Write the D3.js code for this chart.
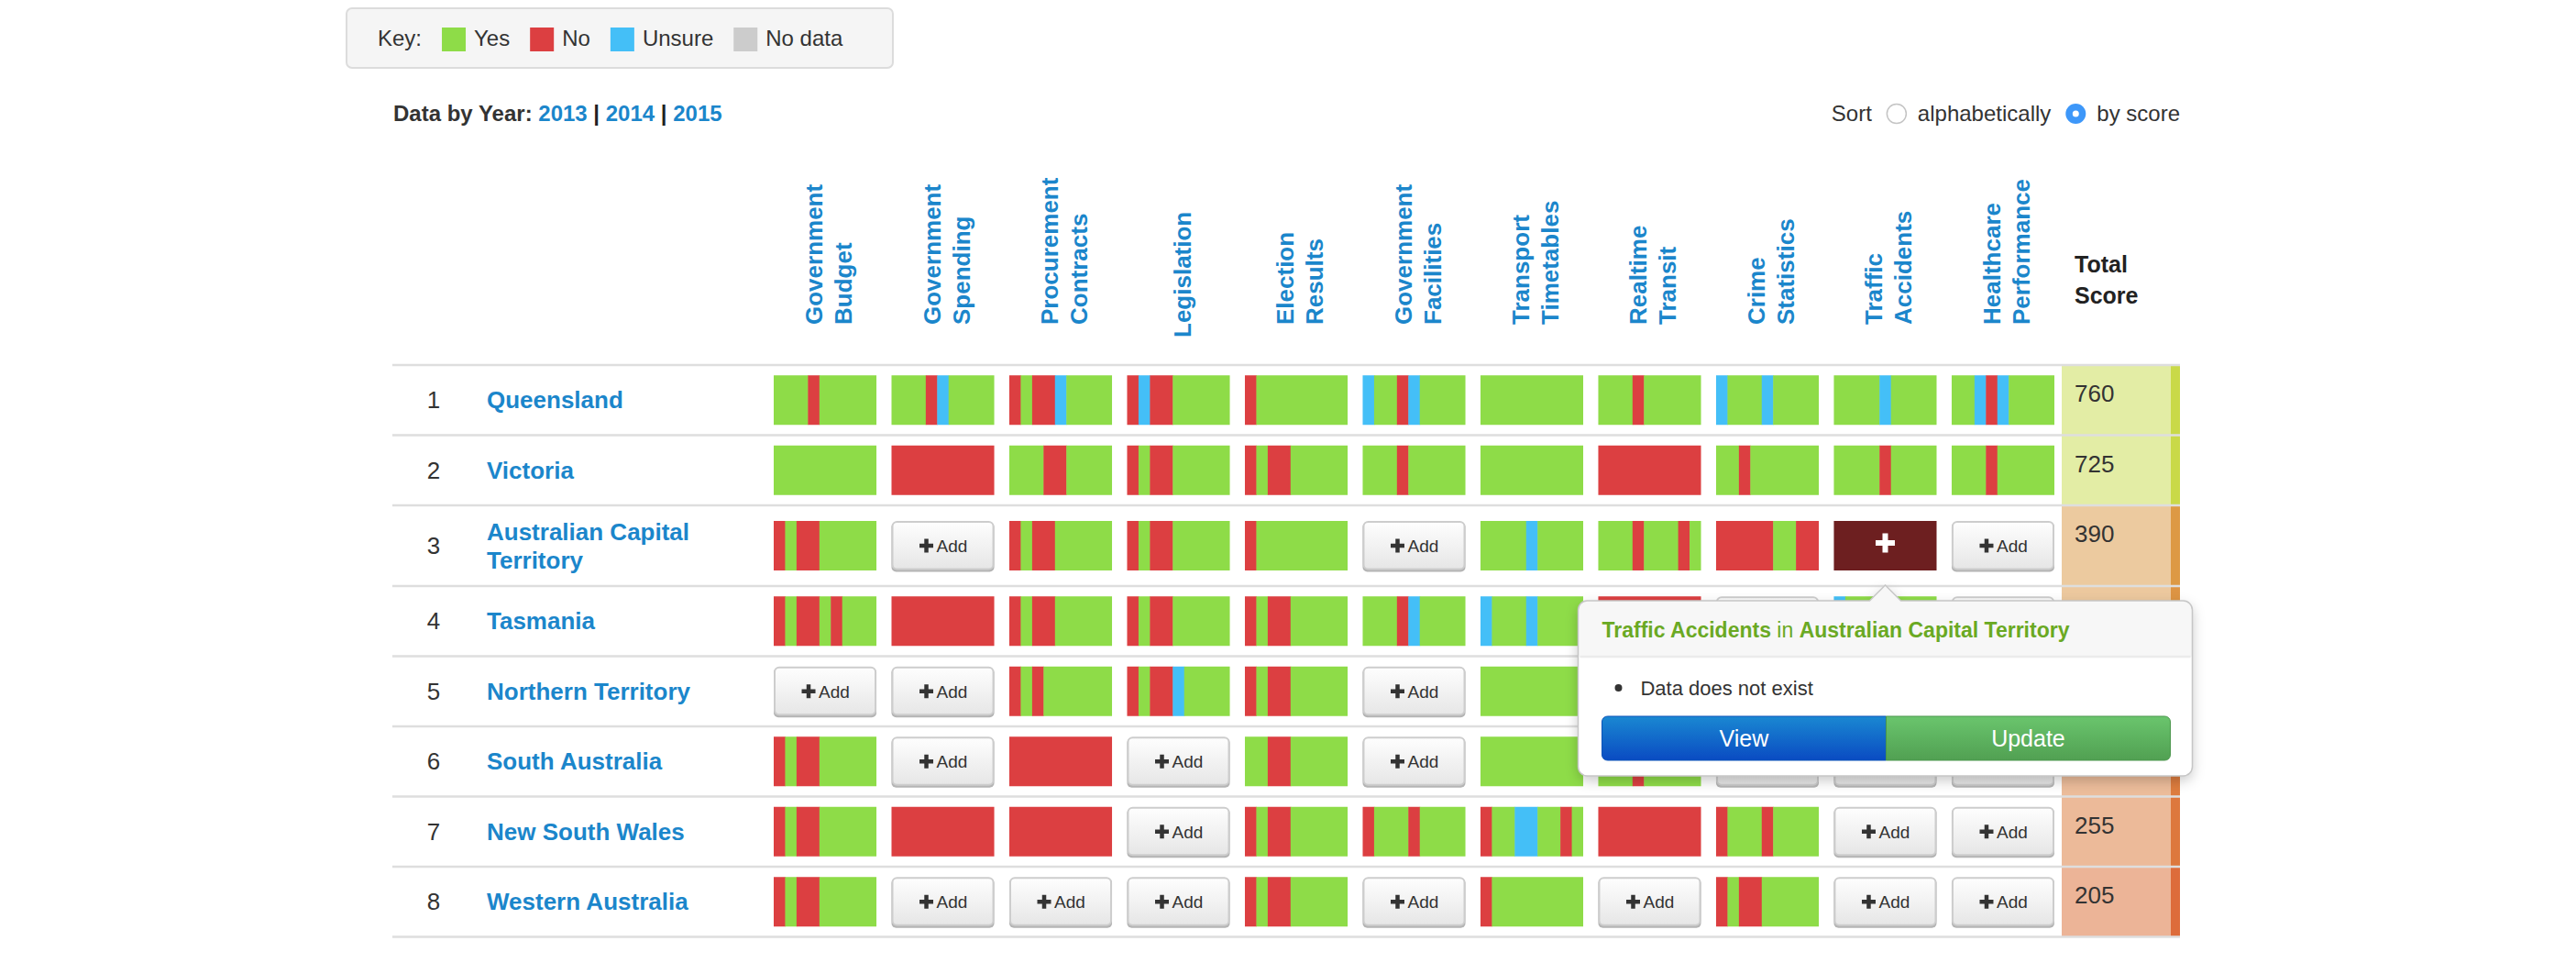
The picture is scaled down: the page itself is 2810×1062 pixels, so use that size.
<!DOCTYPE html>
<html>
<head>
<meta charset="utf-8">
<script src="https://cdn.jsdelivr.net/npm/d3@7"></script>
<style>
  body { margin: 0; background: #fff; }
  svg text { font-family: "Liberation Sans", Arial, Helvetica, sans-serif; }
</style>
</head>
<body>
<svg id="chart" width="2810" height="1062"></svg>
<script>
// datasets (columns) and places (rows), ranked by score
var datasets = ["Government Budget", "Government Spending", "Procurement Contracts", "Legislation",
  "Election Results", "Government Facilities", "Transport Timetables", "Realtime Transit",
  "Crime Statistics", "Traffic Accidents", "Healthcare Performance"];
var places = ["Queensland", "Victoria", "Australian Capital Territory", "Tasmania",
  "Northern Territory", "South Australia", "New South Wales", "Western Australia"];
var scores = [760, 725, 390, 370, 300, 270, 255, 205];

// 9 census questions per cell: Y yes, N no, U unsure. null = no entry (Add), "" = entry open in popover
var answers = [
  ["YYYNYYYYY", "YYYNUYYYY", "NYNNUYYYY", "NUNNYYYYY", "NYYYYYYYY", "UYYNUYYYY", "YYYYYYYYY", "YYYNYYYYY", "UYYYUYYYY", "YYYYUYYYY", "YYUNUYYYY"],
  ["YYYYYYYYY", "NNNNNNNNN", "YYYNNYYYY", "NYNNYYYYY", "NYNNYYYYY", "YYYNYYYYY", "YYYYYYYYY", "NNNNNNNNN", "YYNYYYYYY", "YYYYNYYYY", "YYYNYYYYY"],
  ["NYNNYYYYY", null, "NYNNYYYYY", "NYNNYYYYY", "NYYYYYYYY", null, "YYYYUYYYY", "YYYNYYYNY", "NNNNNYYNN", "", null],
  ["NYNNYNYYY", "NNNNNNNNN", "NYNNYYYYY", "NYNNYYYYY", "NYNNYYYYY", "YYYNUYYYY", "UYYYUYYYY", "NNNNNNNNN", null, "UYYYYYYYY", null],
  [null, null, "NYNYYYYYY", "NYNNUYYYY", "NYNNYYYYY", null, "YYYYYYYYY", "NNNNNNNNN", null, null, null],
  ["NYNNYYYYY", null, "NNNNNNNNN", null, "YYNNYYYYY", null, "YYYYYYYYY", "YYYNYYYYY", null, null, null],
  ["NYNNYYYYY", "NNNNNNNNN", "NNNNNNNNN", null, "NYNNYYYYY", "NYYYNYYYY", "NYYUUYYNY", "NNNNNNNNN", "NYYYNYYYY", null, null],
  ["NYNNYYYYY", null, null, null, "NYNNYYYYY", null, "NYYYYYYYY", null, "NYNNYYYYY", null, null]
];

var keyCodes = ["Y", "N", "U", "-"];
var keyLabels = ["Yes", "No", "Unsure", "No data"];
var years = ["2013", "2014", "2015"];
var sortLabels = ["alphabetically", "by score"];
var popNotes = ["Data does not exist"];
var popButtons = ["View", "Update"];

var colors = {Y: "#8edc48", N: "#dc3f41", U: "#44bff7", "-": "#cccccc"};
var blue = "#1b86cb", ink = "#333";

var svg = d3.select("#chart");
var defs = svg.append("defs");

function grad(id, top, bottom){
  var g = defs.append("linearGradient").attr("id", id).attr("x1", 0).attr("y1", 0).attr("x2", 0).attr("y2", 1);
  g.append("stop").attr("offset", "0%").attr("stop-color", top);
  g.append("stop").attr("offset", "100%").attr("stop-color", bottom);
}
grad("btn", "#fefefe", "#e6e6e6");
grad("view", "#1a88d2", "#0a4bc2");
grad("update", "#6ac56d", "#51a052");
var shadow = defs.append("filter").attr("id", "shadow").attr("x", "-10%").attr("y", "-20%").attr("width", "120%").attr("height", "150%");
shadow.append("feDropShadow").attr("dx", 0).attr("dy", 5).attr("stdDeviation", 7).attr("flood-color", "#000").attr("flood-opacity", 0.22);

// scales
var x = d3.scaleBand().domain(datasets).range([844, 2241]).paddingInner(0.128);
var unit = d3.scaleLinear().domain([0, 9]).range([0, x.bandwidth()]);
var scoreFill = d3.scaleLinear().domain([205, 390, 700]).range(["#ecb497", "#ecca9f", "#e3eda5"]).clamp(true);
var scoreEdge = d3.scaleLinear().domain([205, 390, 700]).range(["#dd6c3b", "#dd9944", "#c9d948"]).clamp(true);

var cellH = 54, tableLeft = 428, tableRight = 2378, scoreLeft = 2249, stripeW = 10;
var headTop = 398, nameX = 531, rankX = 473;

function runs(code){
  var out = [];
  code.split("").forEach(function(c, i){
    var last = out[out.length - 1];
    if (last && last.c == c) last.n++;
    else out.push({c: c, i: i, n: 1});
  });
  return out;
}

function sidePath(x0, y0, w, h, rl, rr){
  return "M" + (x0 + rl) + "," + y0 + "H" + (x0 + w - rr)
    + "A" + rr + "," + rr + " 0 0 1 " + (x0 + w) + "," + (y0 + rr)
    + "V" + (y0 + h - rr) + "A" + rr + "," + rr + " 0 0 1 " + (x0 + w - rr) + "," + (y0 + h)
    + "H" + (x0 + rl) + "A" + rl + "," + rl + " 0 0 1 " + x0 + "," + (y0 + h - rl)
    + "V" + (y0 + rl) + "A" + rl + "," + rl + " 0 0 1 " + (x0 + rl) + "," + y0 + "Z";
}

function plus(g, cx, cy, size, thick, fill){
  g.append("rect").attr("x", cx - size / 2).attr("y", cy - thick / 2).attr("width", size).attr("height", thick).attr("fill", fill);
  g.append("rect").attr("x", cx - thick / 2).attr("y", cy - size / 2).attr("width", thick).attr("height", size).attr("fill", fill);
}

/***** key box *****/
var key = svg.append("g");
key.append("rect").attr("x", 378).attr("y", 9).attr("width", 596).attr("height", 65).attr("rx", 6)
  .attr("fill", "#f5f5f5").attr("stroke", "#dcdcdc").attr("stroke-width", 2);
var kx = 412;
var kt = key.append("text").attr("x", kx).attr("y", 50).attr("font-size", 24).attr("fill", ink).text("Key:");
kx += kt.node().getComputedTextLength() + 22;
keyCodes.forEach(function(c, i){
  key.append("rect").attr("x", kx).attr("y", 30).attr("width", 26).attr("height", 26).attr("fill", colors[c]);
  var t = key.append("text").attr("x", kx + 35).attr("y", 50).attr("font-size", 24).attr("fill", ink).text(keyLabels[i]);
  kx += 35 + t.node().getComputedTextLength() + 22;
});

/***** years *****/
var yr = svg.append("text").attr("x", 429).attr("y", 132).attr("font-size", 24).attr("font-weight", "bold").attr("fill", ink);
yr.append("tspan").text("Data by Year: ");
years.forEach(function(y, i){
  if (i > 0) yr.append("tspan").attr("fill", "#222").text(" | ");
  yr.append("tspan").attr("fill", blue).text(y);
});

/***** sort control, laid out from the right *****/
var sortG = svg.append("g");
var sx = tableRight, sy = 132;
for (var s = sortLabels.length - 1; s >= 0; s--){
  var st = sortG.append("text").attr("x", sx).attr("y", sy).attr("text-anchor", "end").attr("font-size", 24).attr("fill", ink).text(sortLabels[s]);
  sx -= st.node().getComputedTextLength() + 12 + 11;
  if (s == sortLabels.length - 1){
    sortG.append("circle").attr("cx", sx).attr("cy", sy - 8).attr("r", 11).attr("fill", "#3d97f9");
    sortG.append("circle").attr("cx", sx).attr("cy", sy - 8).attr("r", 3.5).attr("fill", "#fff");
  } else {
    sortG.append("circle").attr("cx", sx).attr("cy", sy - 8).attr("r", 10.5).attr("fill", "#fff").attr("stroke", "#c4c4c4").attr("stroke-width", 1.5);
  }
  sx -= 11 + 16;
}
sortG.append("text").attr("x", sx).attr("y", sy).attr("text-anchor", "end").attr("font-size", 24).attr("fill", ink).text("Sort");

/***** column headers *****/
var head = svg.append("g").selectAll("g.col")
  .data(datasets)
  .enter().append("g")
  .attr("class", "col")
  .attr("transform", function(d){
    var one = d.indexOf(" ") < 0;
    return "translate(" + (x(d) + x.bandwidth() / 2 + 4) + "," + (one ? 368 : 354) + ")rotate(-90)";
  });
head.append("text")
  .attr("font-size", 26).attr("font-weight", "bold").attr("fill", blue)
  .each(function(d){
    var words = d.split(" "), t = d3.select(this);
    words.forEach(function(w, i){
      t.append("tspan").attr("x", 0).attr("y", (i - (words.length - 1) / 2) * 32 + 9).text(w);
    });
  });

var total = svg.append("text").attr("font-size", 25).attr("font-weight", "bold").attr("fill", "#222");
total.append("tspan").attr("x", 2263).attr("y", 297).text("Total");
total.append("tspan").attr("x", 2263).attr("y", 331).text("Score");

/***** rows *****/
var rowData = places.map(function(p, i){ return {name: p, rank: i + 1, score: scores[i], cells: answers[i]}; });

var rows = svg.append("g").selectAll("g.row")
  .data(rowData)
  .enter().append("g")
  .attr("class", "row");

// names first, to know how tall each row is
rows.append("text")
  .attr("class", "name")
  .attr("font-size", 26).attr("font-weight", "bold").attr("fill", blue)
  .each(function(d){
    var t = d3.select(this), words = d.name.split(" "), line = [];
    var tsp = t.append("tspan").attr("x", nameX);
    words.forEach(function(w){
      line.push(w);
      tsp.text(line.join(" "));
      if (tsp.node().getComputedTextLength() > 300 && line.length > 1){
        line.pop();
        tsp.text(line.join(" "));
        line = [w];
        tsp = t.append("tspan").attr("x", nameX).text(w);
      }
    });
    d.lines = t.selectAll("tspan").size();
    d.h = d.lines > 1 ? 88 : 76.5;
  });

var yTop = headTop;
rowData.forEach(function(d){ d.top = yTop; yTop += d.h; });

rows.attr("transform", function(d){ return "translate(0," + d.top + ")"; });
rows.select("text.name").selectAll("tspan")
  .attr("y", function(d, i){
    var r = d3.select(this.parentNode).datum();
    return r.h / 2 + (i - (r.lines - 1) / 2) * 31 + 9;
  });

rows.append("text")
  .attr("x", rankX).attr("y", function(d){ return d.h / 2 + 9; })
  .attr("text-anchor", "middle").attr("font-size", 26).attr("fill", ink)
  .text(function(d){ return d.rank; });

// score column
rows.append("rect").attr("x", scoreLeft).attr("y", 0)
  .attr("width", tableRight - stripeW - scoreLeft).attr("height", function(d){ return d.h; })
  .attr("fill", function(d){ return scoreFill(d.score); });
rows.append("rect").attr("x", tableRight - stripeW).attr("y", 0)
  .attr("width", stripeW).attr("height", function(d){ return d.h; })
  .attr("fill", function(d){ return scoreEdge(d.score); });
rows.append("text").attr("x", 2263).attr("y", 40)
  .attr("font-size", 26).attr("fill", ink)
  .text(function(d){ return d.score; });

// cells
var cells = rows.selectAll("g.cell")
  .data(function(d){ return d.cells.map(function(c, j){ return {code: c, ds: datasets[j], row: d}; }); })
  .enter().append("g")
  .attr("class", "cell")
  .attr("transform", function(d){ return "translate(" + x(d.ds) + "," + (d.row.h - cellH) / 2 + ")"; });

cells.each(function(d){
  var g = d3.select(this), w = x.bandwidth(), cx = w / 2, cy = cellH / 2;
  if (d.code === null){
    // add button
    g.append("rect").attr("x", 0).attr("y", 1.5).attr("width", w).attr("height", cellH).attr("rx", 5).attr("fill", "#b4b4b4");
    g.append("rect").attr("x", 1).attr("y", 1).attr("width", w - 2).attr("height", cellH - 2.5).attr("rx", 5)
      .attr("fill", "url(#btn)").attr("stroke", "#cdcdcd").attr("stroke-width", 2);
    plus(g, cx - 18, cy, 15, 4.5, "#333");
    g.append("text").attr("x", cx - 7).attr("y", cy + 7).attr("font-size", 19).attr("fill", "#333").text("Add");
  } else if (d.code === ""){
    // entry shown in the popover
    g.append("rect").attr("width", w).attr("height", cellH).attr("fill", "#6d1f20");
    plus(g, cx, cy - 3, 21, 6, "#fff");
  } else {
    g.selectAll("rect.seg")
      .data(runs(d.code))
      .enter().append("rect")
      .attr("class", "seg")
      .attr("x", function(s){ return unit(s.i); })
      .attr("width", function(s){ return unit(s.n) + (s.i + s.n < 9 ? 0.5 : 0); })
      .attr("height", cellH)
      .attr("fill", function(s){ return colors[s.c]; });
  }
});

// row separators
var bounds = [headTop].concat(rowData.map(function(d){ return d.top + d.h; }));
svg.append("g").selectAll("line")
  .data(bounds)
  .enter().append("line")
  .attr("x1", tableLeft).attr("x2", tableRight)
  .attr("y1", function(d){ return d; }).attr("y2", function(d){ return d; })
  .attr("stroke", "#dedede").attr("stroke-width", 2.5);

/***** popover on the open entry *****/
var pi = -1, pj = -1;
answers.forEach(function(r, i){ r.forEach(function(c, j){ if (c === "") { pi = i; pj = j; } }); });
if (pi >= 0){
  var prow = rowData[pi];
  var ax = x(datasets[pj]) + x.bandwidth() / 2;
  var tipY = prow.top + (prow.h + cellH) / 2 + 16;
  var pw = 670, ph = 191, ah = 17, aw = 17, r = 10;
  var x0 = ax - pw / 2, y0 = tipY + ah;
  var pathD = "M" + (x0 + r) + "," + y0 + "H" + (ax - aw) + "L" + ax + "," + (y0 - ah) + "L" + (ax + aw) + "," + y0
    + "H" + (x0 + pw - r) + "A" + r + "," + r + " 0 0 1 " + (x0 + pw) + "," + (y0 + r)
    + "V" + (y0 + ph - r) + "A" + r + "," + r + " 0 0 1 " + (x0 + pw - r) + "," + (y0 + ph)
    + "H" + (x0 + r) + "A" + r + "," + r + " 0 0 1 " + x0 + "," + (y0 + ph - r)
    + "V" + (y0 + r) + "A" + r + "," + r + " 0 0 1 " + (x0 + r) + "," + y0 + "Z";

  var pop = svg.append("g");
  pop.append("path").attr("d", pathD).attr("fill", "#fff").attr("filter", "url(#shadow)");
  defs.append("clipPath").attr("id", "popHead").append("rect")
    .attr("x", x0 - 5).attr("y", y0 - ah - 5).attr("width", pw + 10).attr("height", ah + 5 + 61);
  pop.append("path").attr("d", pathD).attr("fill", "#f7f7f7").attr("clip-path", "url(#popHead)");
  pop.append("line").attr("x1", x0 + 2).attr("x2", x0 + pw - 2).attr("y1", y0 + 61).attr("y2", y0 + 61)
    .attr("stroke", "#ebebeb").attr("stroke-width", 2.5);
  pop.append("path").attr("d", pathD).attr("fill", "none").attr("stroke", "#c6c6c6").attr("stroke-width", 1.5);

  var title = pop.append("text").attr("x", x0 + 26).attr("y", y0 + 40).attr("font-size", 23).attr("fill", "#6aa923");
  title.append("tspan").attr("font-weight", "bold").text(datasets[pj]);
  title.append("tspan").text(" in ");
  title.append("tspan").attr("font-weight", "bold").text(places[pi]);

  popNotes.forEach(function(n, k){
    pop.append("circle").attr("cx", x0 + 44).attr("cy", y0 + 95 + k * 30).attr("r", 4).attr("fill", ink);
    pop.append("text").attr("x", x0 + 68).attr("y", y0 + 103 + k * 30).attr("font-size", 22).attr("fill", ink).text(n);
  });

  var bx = x0 + 26, by = y0 + 126, bw = (pw - 50) / popButtons.length, bh = 48;
  popButtons.forEach(function(b, k){
    var rl = k == 0 ? 6 : 0, rr = k == popButtons.length - 1 ? 6 : 0;
    pop.append("path").attr("d", sidePath(bx + k * bw, by, bw, bh, rl, rr))
      .attr("fill", k == 0 ? "url(#view)" : "url(#update)")
      .attr("stroke", k == 0 ? "#0a52b8" : "#4b964c").attr("stroke-width", 1);
    pop.append("text").attr("x", bx + k * bw + bw / 2).attr("y", by + bh / 2 + 9)
      .attr("text-anchor", "middle").attr("font-size", 25).attr("fill", "#fff").text(b);
  });
}
</script>
</body>
</html>
